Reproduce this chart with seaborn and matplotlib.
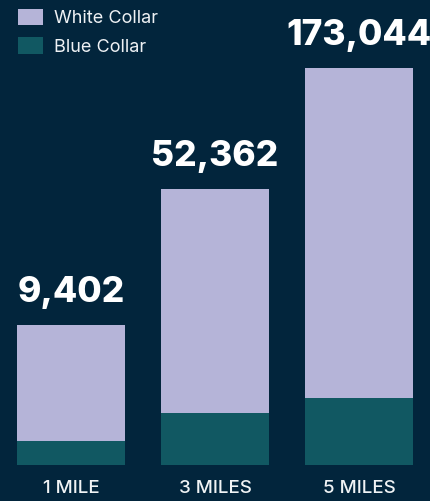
import matplotlib
matplotlib.use("Agg")
import matplotlib.pyplot as plt
import seaborn as sns
import pandas as pd
from matplotlib.patches import Patch

# data (bar heights in the chart's own display units)
distances = ["1 MILE", "3 MILES", "5 MILES"]
white_collar = [116, 224, 330]
blue_collar = [24, 52, 67]
totals = [9402, 52362, 173044]

bg = "#02253c"
lavender = "#b5b4d8"
teal = "#115862"
text_col = "#ffffff"

sns.set_theme(style="white")
plt.rcParams["font.family"] = ["Inter", "DejaVu Sans"]

df = pd.DataFrame({
    "distance": distances,
    "white": white_collar,
    "blue": blue_collar,
})
df["stack"] = df["white"] + df["blue"]

fig = plt.figure(figsize=(4.31, 5.01), dpi=100, facecolor=bg)
ax = fig.add_axes([0, 36 / 501, 1, 465 / 501])
ax.set_facecolor(bg)

# stacked bars: full height in lavender, blue collar drawn over the bottom
sns.barplot(data=df, x="distance", y="stack", color=lavender, width=0.75,
            saturation=1, linewidth=0, ax=ax)
sns.barplot(data=df, x="distance", y="blue", color=teal, width=0.75,
            saturation=1, linewidth=0, ax=ax)

for i, (h, t) in enumerate(zip(df["stack"], totals)):
    ax.annotate(f"{t:,}", (i, h), xytext=(0, 16.5), textcoords="offset points",
                ha="center", va="baseline", fontsize=25.5, fontweight="heavy",
                color=text_col)

ax.set_xlim(-71 / 144, 360 / 144)
ax.set_ylim(0, 465)
ax.set_xlabel("")
ax.set_ylabel("")
ax.set_yticks([])
ax.tick_params(axis="x", length=0, pad=11, labelsize=13.5, colors="#f0f3f5")
for lab in ax.get_xticklabels():
    lab.set_va("top")
    lab.set_fontweight("medium")
for s in ax.spines.values():
    s.set_visible(False)

handles = [Patch(facecolor=lavender, edgecolor="none", label="White Collar"),
           Patch(facecolor=teal, edgecolor="none", label="Blue Collar")]
fig.legend(handles=handles, loc="upper left", bbox_to_anchor=(0.003, 1.014),
           frameon=False, fontsize=13, labelcolor="#eef1f4",
           handlelength=1.4, handleheight=1.0, handletextpad=0.6,
           labelspacing=0.55)

fig.savefig("out.png", dpi=100, facecolor=bg)
